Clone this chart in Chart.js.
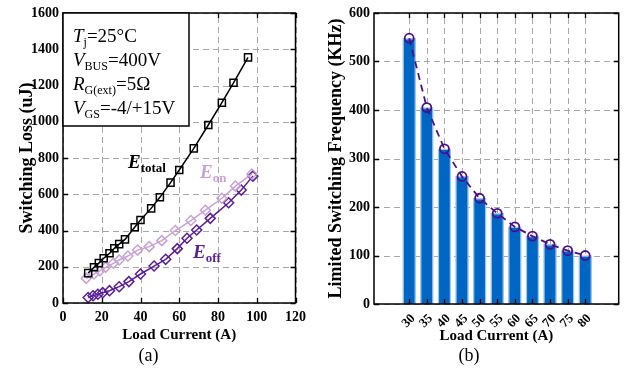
<!DOCTYPE html>
<html>
<head>
<meta charset="utf-8">
<script src="https://cdn.jsdelivr.net/npm/chart.js@4.4.1/dist/chart.umd.min.js"></script>
<style>
  html, body { margin: 0; padding: 0; background: #fff; }
  #wrap { position: relative; width: 625px; height: 371px; }
  .pane { position: absolute; top: 0; height: 371px; }
  #paneA { left: 0; width: 312px; }
  #paneB { left: 318px; width: 307px; }
</style>
</head>
<body>
<div id="wrap">
  <div class="pane" id="paneA"><canvas id="lossChart"></canvas></div>
  <div class="pane" id="paneB"><canvas id="freqChart"></canvas></div>
</div>
<script>
// --- data ---
const totalCurrent = [13, 16, 18.5, 21, 24, 26.5, 29, 32, 37, 40, 45.5, 50, 55.5, 60, 67.5, 75, 82, 88, 95.5];
const totalLoss    = [165, 197, 220, 247, 274, 302, 325, 351, 418, 458, 522, 583, 664, 734, 853, 982, 1105, 1215, 1355];

const onCurrent = [12, 16, 19, 22, 26, 29, 33.5, 38.5, 44.5, 51, 58, 66, 73.5, 82, 89, 97.5];
const onLoss    = [136, 160, 178, 197, 219, 237, 259, 292, 311, 344, 400, 455, 512, 578, 645, 712];

const offCurrent = [13, 15.5, 18, 20.5, 24, 29, 34, 40, 47, 53, 59, 64, 69, 76, 85.5, 92, 98];
const offLoss    = [30, 40, 48, 57, 68, 90, 118, 160, 204, 241, 300, 357, 403, 467, 553, 623, 700];

const freqCurrent = [30, 35, 40, 45, 50, 55, 60, 65, 70, 75, 80];
const freqLimit   = [548, 405, 320, 263, 218, 187, 159, 140, 123, 110, 100];

// tick values
const lossXTicks = [0, 20, 40, 60, 80, 100, 120];
const lossYTicks = [0, 200, 400, 600, 800, 1000, 1200, 1400, 1600];
const freqXTicks = freqCurrent;
const freqYTicks = [0, 100, 200, 300, 400, 500, 600];

const serif = "'Liberation Serif', 'Times New Roman', serif";

// dashed grid + frame with inward ticks, positions from the chart scales
function makeAxesPlugin(xTicks, yTicks) {
    return {
        id: 'axesBox',
        beforeDatasetsDraw(chart) {
            const ctx = chart.ctx, a = chart.chartArea;
            const x = chart.scales.x, y = chart.scales.y;
            ctx.save();
            ctx.strokeStyle = '#a8a8a8';
            ctx.lineWidth = 1;
            ctx.setLineDash([6, 4]);
            xTicks.forEach(v => {
                const px = Math.round(x.getPixelForValue(v)) + 0.5;
                ctx.beginPath(); ctx.moveTo(px, a.bottom); ctx.lineTo(px, a.top); ctx.stroke();
            });
            yTicks.forEach(v => {
                const py = Math.round(y.getPixelForValue(v)) + 0.5;
                ctx.beginPath(); ctx.moveTo(a.left, py); ctx.lineTo(a.right, py); ctx.stroke();
            });
            ctx.restore();
        },
        afterDatasetsDraw(chart) {
            const ctx = chart.ctx, a = chart.chartArea;
            const x = chart.scales.x, y = chart.scales.y;
            ctx.save();
            ctx.setLineDash([]);
            ctx.strokeStyle = '#000';
            ctx.lineWidth = 1.3;
            xTicks.forEach(v => {
                const px = Math.round(x.getPixelForValue(v)) + 0.5;
                ctx.beginPath();
                ctx.moveTo(px, a.bottom); ctx.lineTo(px, a.bottom - 5);
                ctx.moveTo(px, a.top); ctx.lineTo(px, a.top + 5);
                ctx.stroke();
            });
            yTicks.forEach(v => {
                const py = Math.round(y.getPixelForValue(v)) + 0.5;
                ctx.beginPath();
                ctx.moveTo(a.left, py); ctx.lineTo(a.left + 5, py);
                ctx.moveTo(a.right, py); ctx.lineTo(a.right - 5, py);
                ctx.stroke();
            });
            ctx.lineWidth = 1.5;
            ctx.strokeRect(a.left, a.top, a.right - a.left, a.bottom - a.top);
            ctx.restore();
        }
    };
}

function drawRich(ctx, x, y, parts) {
    parts.forEach(p => {
        ctx.font = p.font;
        ctx.fillStyle = p.color || '#000';
        ctx.fillText(p.t, x, y + (p.dy || 0));
        x += ctx.measureText(p.t).width;
    });
}

// condition box and curve names on the loss plot
const notesPlugin = {
    id: 'notes',
    afterDraw(chart) {
        const ctx = chart.ctx;
        const a = chart.chartArea;
        ctx.save();
        ctx.fillStyle = '#fff';
        ctx.fillRect(a.left, a.top, 126, 113);
        ctx.strokeStyle = '#000';
        ctx.lineWidth = 1.5;
        ctx.strokeRect(a.left, a.top, 126, 113);
        ctx.textBaseline = 'alphabetic';
        const it = 'italic 19px ' + serif, nr = '19px ' + serif, sb = '12px ' + serif;
        const bx = a.left + 10;
        drawRich(ctx, bx, a.top + 29, [{t: 'T', font: it}, {t: 'j', font: sb, dy: 4}, {t: '=25°C', font: nr}]);
        drawRich(ctx, bx, a.top + 53, [{t: 'V', font: it}, {t: 'BUS', font: sb, dy: 4}, {t: '=400V', font: nr}]);
        drawRich(ctx, bx, a.top + 77, [{t: 'R', font: it}, {t: 'G(ext)', font: sb, dy: 4}, {t: '=5Ω', font: nr}]);
        drawRich(ctx, bx, a.top + 101, [{t: 'V', font: it}, {t: 'GS', font: sb, dy: 4}, {t: '=-4/+15V', font: nr}]);

        const eb = 'bold italic 19px ' + serif, es = 'bold 13px ' + serif;
        drawRich(ctx, 128, 168, [{t: 'E', font: eb}, {t: 'total', font: es, dy: 4}]);
        drawRich(ctx, 200, 178, [{t: 'E', font: eb, color: '#c8a2d6'}, {t: 'on', font: es, dy: 4, color: '#c8a2d6'}]);
        drawRich(ctx, 193, 258, [{t: 'E', font: eb, color: '#5a1e9a'}, {t: 'off', font: es, dy: 4, color: '#5a1e9a'}]);
        ctx.restore();
    }
};

function pts(xs, ys) {
    return xs.map((v, i) => ({x: v, y: ys[i]}));
}
function fixedTicks(list) {
    return s => { s.ticks = list.map(v => ({value: v})); };
}

const tickFont = {family: serif, size: 14, weight: 'bold'};
const titleFont = {family: serif, size: 15, weight: 'bold'};
const yTitleFont = {family: serif, size: 18, weight: 'bold'};
const plain = v => String(v);
const noGrid = {display: false, drawTicks: false};

// --- (a) switching loss ---
new Chart(document.getElementById('lossChart'), {
    type: 'line',
    data: {
        datasets: [{
            label: 'Etotal',
            data: pts(totalCurrent, totalLoss),
            borderColor: '#000',
            borderWidth: 1.5,
            pointStyle: 'rect',
            pointRadius: 5,
            pointBorderWidth: 1.5,
            pointBackgroundColor: 'rgba(0,0,0,0)'
        }, {
            label: 'Eon',
            data: pts(onCurrent, onLoss),
            borderColor: '#c8a2d6',
            borderWidth: 1.5,
            pointStyle: 'rectRot',
            pointRadius: 5,
            pointBorderWidth: 1.5,
            pointBackgroundColor: 'rgba(0,0,0,0)'
        }, {
            label: 'Eoff',
            data: pts(offCurrent, offLoss),
            borderColor: '#5a1e9a',
            borderWidth: 1.5,
            pointStyle: 'rectRot',
            pointRadius: 5,
            pointBorderWidth: 1.5,
            pointBackgroundColor: 'rgba(0,0,0,0)'
        }]
    },
    options: {
        responsive: true,
        maintainAspectRatio: false,
        animation: false,
        layout: {padding: {top: 13, right: 15, left: 0, bottom: 0}},
        plugins: {
            legend: {display: false},
            tooltip: {enabled: false},
            subtitle: {display: true, position: 'bottom', text: '(a)', color: '#000',
                font: {family: serif, size: 18, weight: 'normal'}, padding: {top: 0, bottom: 4}}
        },
        scales: {
            x: {
                type: 'linear', min: 0, max: 120,
                afterBuildTicks: fixedTicks(lossXTicks),
                ticks: {color: '#000', font: tickFont, padding: 6, callback: plain},
                grid: noGrid,
                border: {display: false},
                title: {display: true, text: 'Load Current (A)', color: '#000', font: titleFont, padding: {top: 0, bottom: 1}},
                afterFit: s => { s.height = 42.4; }
            },
            y: {
                min: 0, max: 1600,
                afterBuildTicks: fixedTicks(lossYTicks),
                ticks: {color: '#000', font: tickFont, padding: 4, callback: plain},
                grid: noGrid,
                border: {display: false},
                title: {display: true, text: 'Switching Loss (uJ)', color: '#000', font: yTitleFont, padding: {top: 17, bottom: 17}},
                afterFit: s => { s.width = 63; }
            }
        }
    },
    plugins: [makeAxesPlugin(lossXTicks, lossYTicks), notesPlugin]
});

// --- (b) limited switching frequency ---
new Chart(document.getElementById('freqChart'), {
    type: 'bar',
    data: {
        datasets: [{
            type: 'line',
            label: 'trend',
            data: pts(freqCurrent, freqLimit),
            borderColor: '#4b0f8c',
            borderWidth: 1.8,
            borderDash: [7, 5],
            pointStyle: 'circle',
            pointRadius: 4.5,
            pointBorderWidth: 1.8,
            pointBackgroundColor: 'rgba(0,0,0,0)',
            order: 0
        }, {
            label: 'Limited Switching Frequency',
            data: pts(freqCurrent, freqLimit),
            backgroundColor: '#0066c4',
            borderColor: '#9cc6ec',
            borderWidth: 1.5,
            barThickness: 13,
            order: 1
        }]
    },
    options: {
        responsive: true,
        maintainAspectRatio: false,
        animation: false,
        layout: {padding: {top: 13, right: 5, left: 0, bottom: 0}},
        plugins: {
            legend: {display: false},
            tooltip: {enabled: false},
            subtitle: {display: true, position: 'bottom', text: '(b)', color: '#000',
                font: {family: serif, size: 18, weight: 'normal'}, padding: {top: 0, bottom: 4}}
        },
        scales: {
            x: {
                type: 'linear', min: 20, max: 89.5, offset: false,
                afterBuildTicks: fixedTicks(freqXTicks),
                ticks: {color: '#000', font: {family: serif, size: 13, weight: 'bold'}, minRotation: 45, maxRotation: 45,
                    padding: 7, labelOffset: 4, autoSkip: false, callback: plain},
                grid: noGrid,
                border: {display: false},
                title: {display: true, text: 'Load Current (A)', color: '#000', font: titleFont, padding: {top: 0, bottom: 0}},
                afterFit: s => { s.height = 41.4; }
            },
            y: {
                min: 0, max: 600,
                afterBuildTicks: fixedTicks(freqYTicks),
                ticks: {color: '#000', font: tickFont, padding: 4, callback: plain},
                grid: noGrid,
                border: {display: false},
                title: {display: true, text: 'Limited Switching Frequency (KHz)', color: '#000', font: yTitleFont, padding: {top: 8, bottom: 8}},
                afterFit: s => { s.width = 56; }
            }
        }
    },
    plugins: [makeAxesPlugin(freqXTicks, freqYTicks)]
});
</script>
</body>
</html>
